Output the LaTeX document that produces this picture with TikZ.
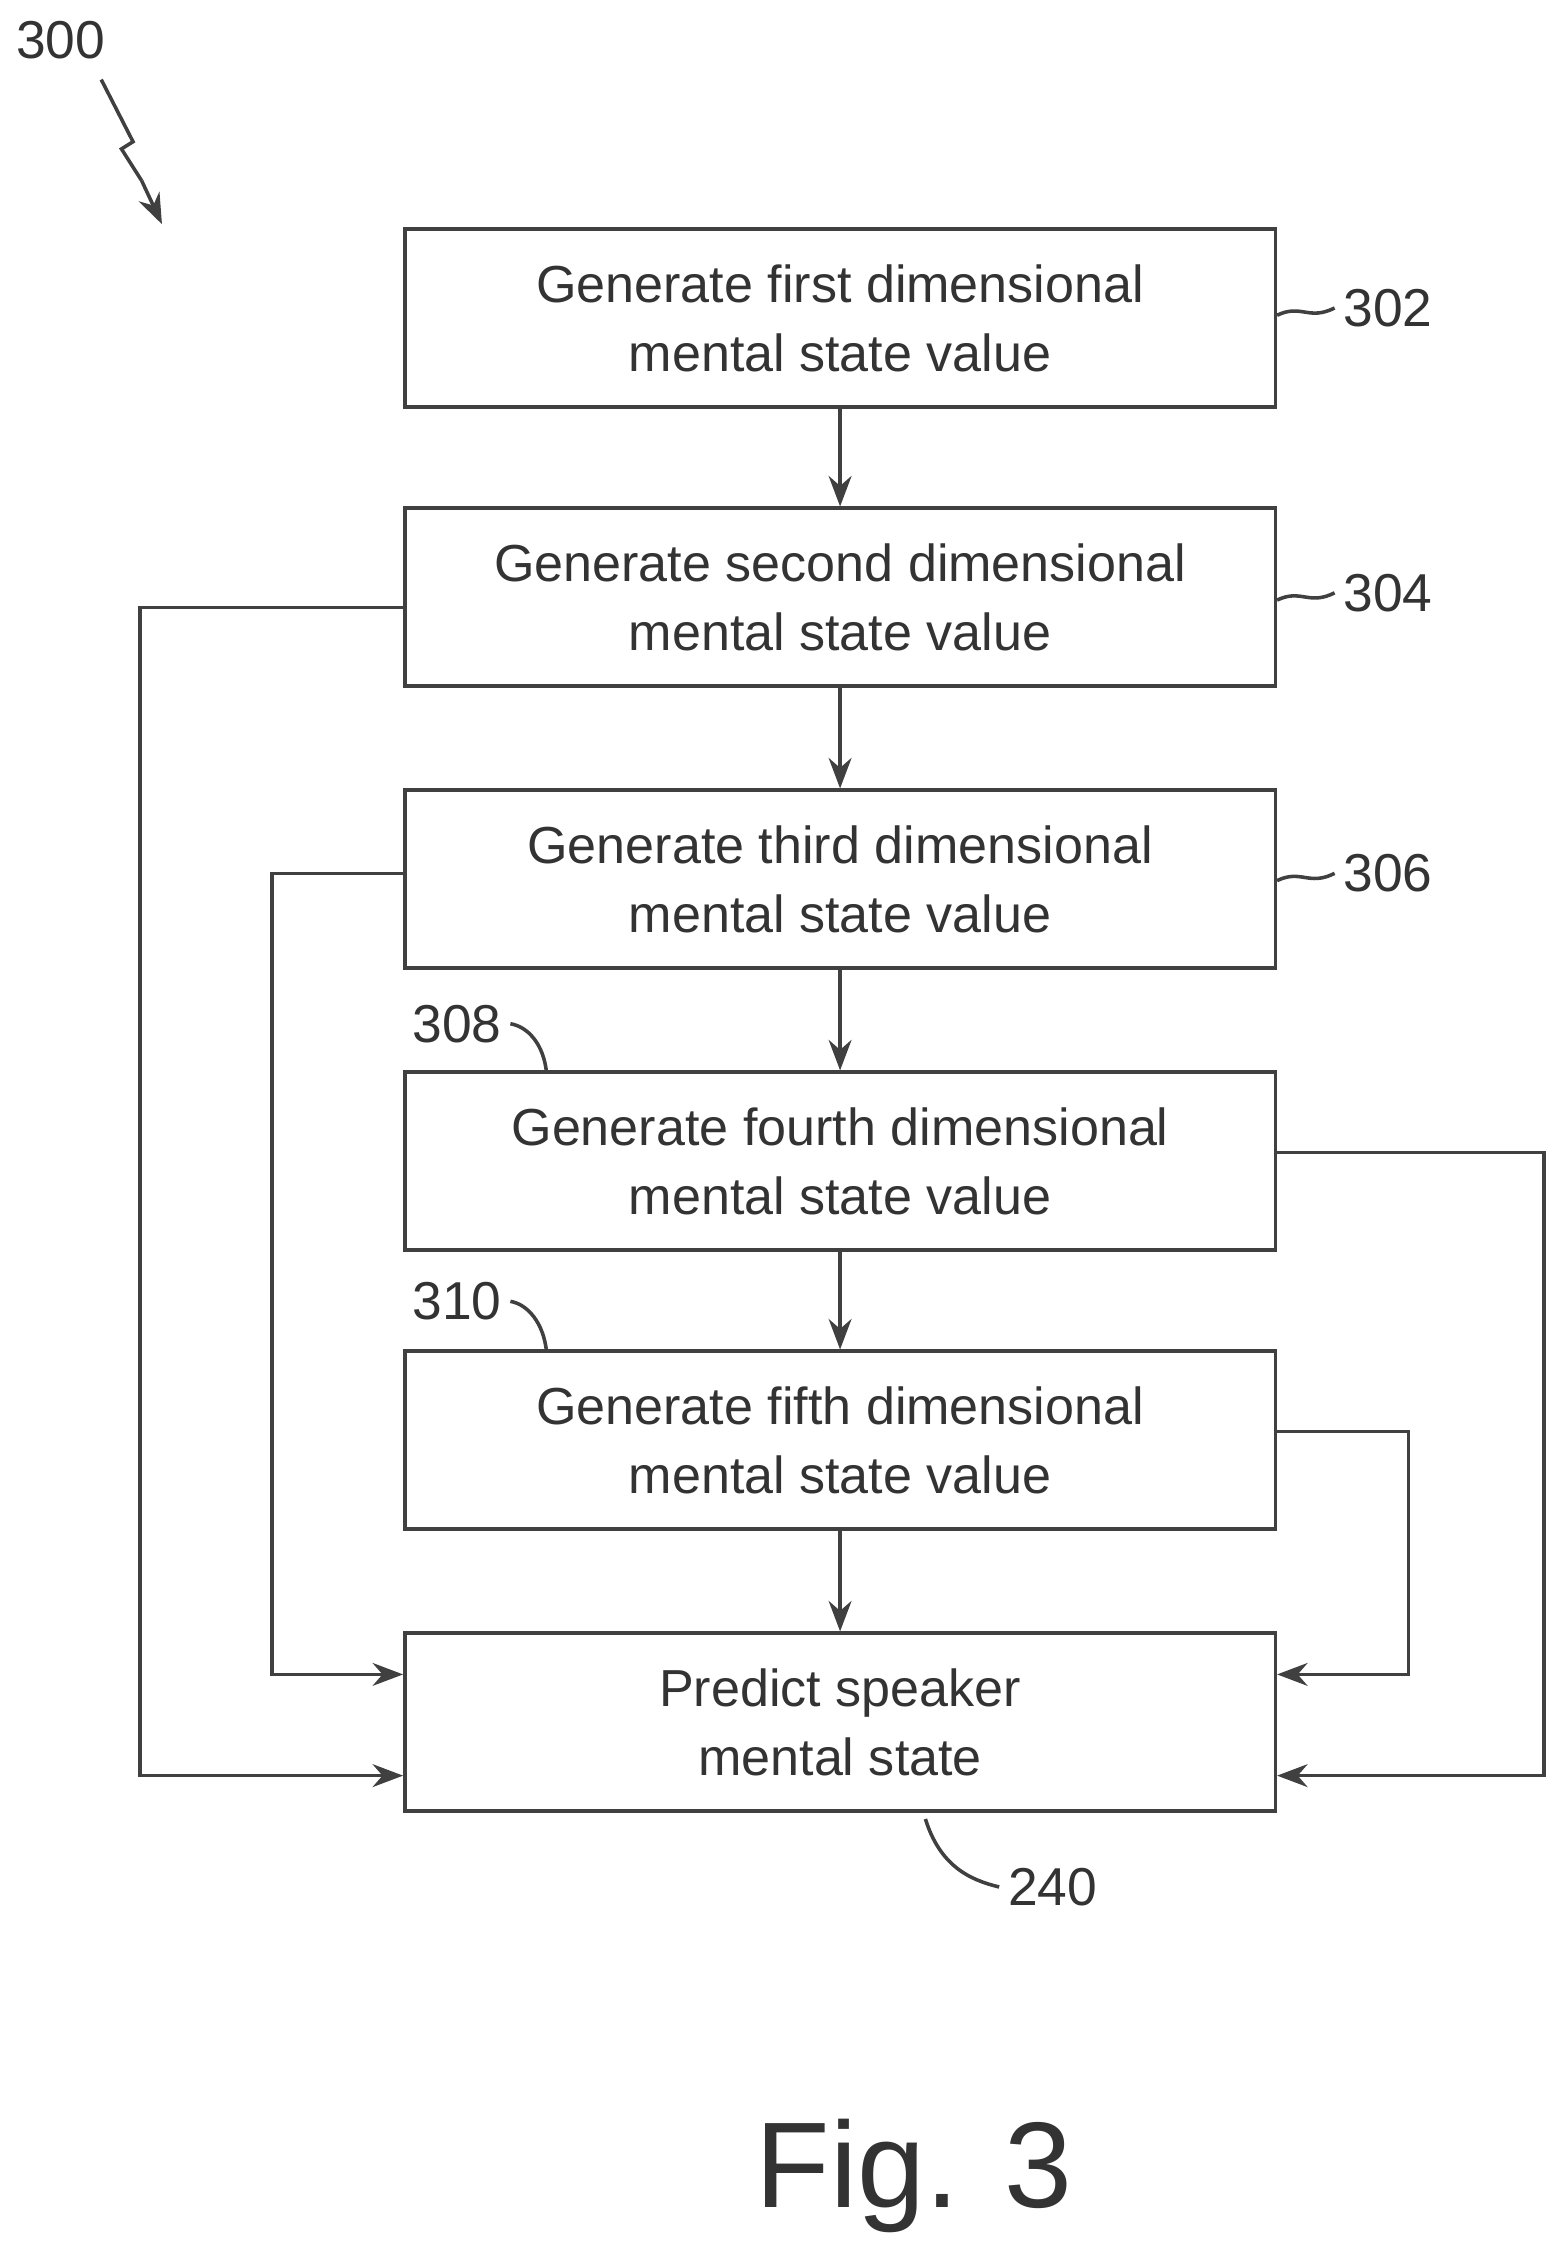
\documentclass[tikz,border=0pt]{standalone}
\usepackage{fontspec}
\setmainfont{Liberation Sans}
\usetikzlibrary{calc,arrows.meta}
\tikzset{
  stepbox/.style={draw=black!75, line width=1.4pt, minimum width=602*0.02cm, minimum height=123*0.02cm,
    align=center, font=\fontsize{20.5}{27}\selectfont, text=black!80},
  flow/.style={draw=black!75, line width=1.4pt, -{Stealth[length=12pt,width=9pt]}},
  lbl/.style={font=\fontsize{21}{25}\selectfont, text=black!80},
  lead/.style={draw=black!75, line width=1.4pt}
}
\begin{document}
\begin{tikzpicture}[x=0.02cm,y=-0.02cm]
\useasboundingbox (0,0) rectangle (1080,1563);

\node[stepbox] (s302) at (581,220) {Generate first dimensional\\mental state value};
\node[stepbox] (s304) at (581,413) {Generate second dimensional\\mental state value};
\node[stepbox] (s306) at (581,608) {Generate third dimensional\\mental state value};
\node[stepbox] (s308) at (581,803) {Generate fourth dimensional\\mental state value};
\node[stepbox] (s310) at (581,996) {Generate fifth dimensional\\mental state value};
\node[stepbox] (s240) at (581,1191) {Predict speaker\\mental state};

\draw[flow] (s302) -- (s304);
\draw[flow] (s304) -- (s306);
\draw[flow] (s306) -- (s308);
\draw[flow] (s308) -- (s310);
\draw[flow] (s310) -- (s240);

% side paths
\draw[flow] (s304.west |- 0,420) -- (97,420) -- (97,1228) -- (s240.west |- 0,1228);
\draw[flow] (s306.west |- 0,604) -- (188,604) -- (188,1158) -- (s240.west |- 0,1158);
\draw[flow] (s308.east |- 0,797) -- (1068,797) -- (1068,1228) -- (s240.east |- 0,1228);
\draw[flow] (s310.east |- 0,990) -- (974,990) -- (974,1158) -- (s240.east |- 0,1158);

% reference numerals
\node[lbl, anchor=west] (n302) at (923,213) {302};
\node[lbl, anchor=west] (n304) at (923,410) {304};
\node[lbl, anchor=west] (n306) at (923,604) {306};
\node[lbl] (n308) at (316,708) {308};
\node[lbl] (n310) at (316,900) {310};
\node[lbl] (n240) at (728,1305) {240};
\node[lbl] (n300) at (42,28) {300};

\draw[lead] (s302.east |- 0,218) .. controls (900,210) and (905,222) .. (n302.west);
\draw[lead] (s304.east |- 0,415) .. controls (900,407) and (905,419) .. (n304.west);
\draw[lead] (s306.east |- 0,609) .. controls (900,601) and (905,613) .. (n306.west);
\draw[lead] (n308.east) .. controls (365,710) and (376,722) .. (378,742);
\draw[lead] (n310.east) .. controls (365,902) and (376,915) .. (378,935);
\draw[lead] (640,1258) .. controls (650,1290) and (670,1300) .. (n240.west);

\coordinate (z1) at (70,55);
\coordinate (z2) at (112,155);
\draw[lead] (z1) -- (92,98) -- (84,103) -- (98,125);
\draw[flow] (98,125) -- (z2);

\node[font=\fontsize{48}{56}\selectfont, text=black!80] (fig) at (632,1505) {Fig. 3};
\end{tikzpicture}
\end{document}
